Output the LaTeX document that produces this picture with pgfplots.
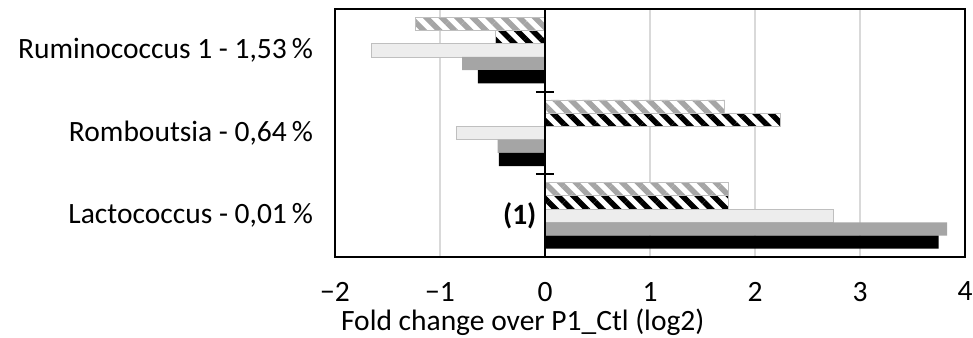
\documentclass[border=0pt]{standalone}
\usepackage{fontspec}
\setmainfont{Carlito}
\usepackage{pgfplots}
\pgfplotsset{compat=1.18}
\usetikzlibrary{patterns.meta}
\definecolor{lgrey}{HTML}{EDEDED}
\definecolor{edgec}{HTML}{BFBFBF}
\definecolor{mgrey}{HTML}{A5A5A5}
\definecolor{gridc}{HTML}{D9D9D9}
\begin{document}
\fontsize{29.5bp}{35bp}\selectfont%
\begin{tikzpicture}
\begin{axis}[
  at={(0,0)}, anchor=south west,
  scale only axis, width=630bp, height=248bp,
  xmin=-2, xmax=4, ymin=-0.5, ymax=2.5,
  xtick={-2,-1,0,1,2,3,4},
  xticklabels={−2,−1,0,1,2,3,4},
  ytick={0,1,2},
  yticklabels={{Lactococcus - 0,01\,\%},{Romboutsia - 0,64\,\%},{Ruminococcus 1 - 1,53\,\%}},
  major tick length=0pt,
  xmajorgrids, grid style={gridc, line width=1.2bp},
  axis line style={black, line width=1.5bp},
  xticklabel style={yshift=-15bp},
  yticklabel style={xshift=-12bp},
  xlabel={Fold change over P1\_Ctl (log2)},
  xlabel style={at={(axis description cs:0.298,0)}, anchor=base, yshift=-73bp},
  every axis plot/.append style={xbar, bar width=0.16},
]
% grey hatched
\addplot[bar shift=0.32, fill=white, draw=edgec, line width=0.8bp,
  postaction={pattern={Lines[angle=-45,distance=11bp,line width=5.5bp]}, pattern color=mgrey}]
  coordinates {(1.75,0) (1.71,1) (-1.23,2)};
% black hatched
\addplot[bar shift=0.16, fill=white, draw=edgec, line width=0.8bp,
  postaction={pattern={Lines[angle=-45,distance=11bp,line width=5.5bp]}, pattern color=black}]
  coordinates {(1.75,0) (2.24,1) (-0.47,2)};
% light grey
\addplot[bar shift=0, fill=lgrey, draw=edgec, line width=0.8bp]
  coordinates {(2.75,0) (-0.84,1) (-1.65,2)};
% mid grey
\addplot[bar shift=-0.16, fill=mgrey, draw=none]
  coordinates {(3.83,0) (-0.45,1) (-0.79,2)};
% black
\addplot[bar shift=-0.32, fill=black, draw=none]
  coordinates {(3.75,0) (-0.44,1) (-0.64,2)};
\draw[black, line width=1.5bp] (axis cs:0,-0.5) -- (axis cs:0,2.5);
\draw[black, line width=1.8bp] ([xshift=-9bp]axis cs:0,0.5) -- ([xshift=9bp]axis cs:0,0.5);
\draw[black, line width=1.8bp] ([xshift=-9bp]axis cs:0,1.5) -- ([xshift=9bp]axis cs:0,1.5);
\draw[black, line width=1.8bp] ([xshift=-9bp]axis cs:0,2.5) -- ([xshift=9bp]axis cs:0,2.5);
\draw[black, line width=1.8bp] ([xshift=-9bp]axis cs:0,-0.5) -- ([xshift=9bp]axis cs:0,-0.5);
\node[anchor=east, inner sep=0pt, font=\bfseries] at (axis cs:-0.08,0) {(1)};
\end{axis}
\pgfresetboundingbox
\path[use as bounding box] (-335bp,-81bp) rectangle (638bp,257bp);
\end{tikzpicture}%
\end{document}
